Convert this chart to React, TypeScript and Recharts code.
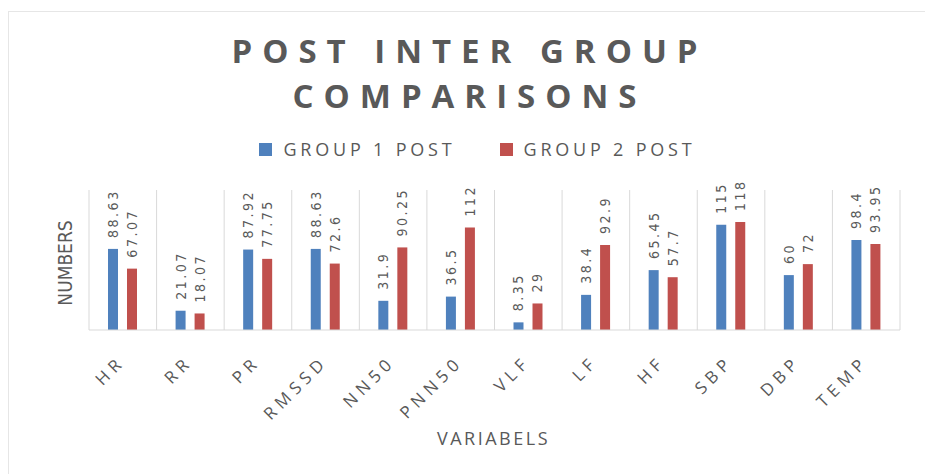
import React from 'react';
import { BarChart, Bar, XAxis, YAxis, CartesianGrid, LabelList } from 'recharts';

const variables = ['HR', 'RR', 'PR', 'RMSSD', 'NN50', 'PNN50', 'VLF', 'LF', 'HF', 'SBP', 'DBP', 'TEMP'];
const group1Post = [88.63, 21.07, 87.92, 88.63, 31.9, 36.5, 8.35, 38.4, 65.45, 115, 60, 98.4];
const group2Post = [67.07, 18.07, 77.75, 72.6, 90.25, 112, 29, 92.9, 57.7, 118, 72, 93.95];
const seriesNames = ['GROUP 1 POST', 'GROUP 2 POST'];

const data = variables.map((name, i) => ({ name, g1: group1Post[i], g2: group2Post[i] }));

const BLUE = '#4F81BD';
const RED = '#C0504D';
const TEXT = '#595959';

const renderValue = (props: any) => {
  const { x, y, width, value } = props;
  const cx = x + width / 2;
  const cy = y - 11;
  return (
    <text
      x={cx}
      y={cy}
      transform={`rotate(-90, ${cx}, ${cy})`}
      textAnchor="start"
      dominantBaseline="central"
      fill={TEXT}
      fontSize={14}
      letterSpacing={2.5}
      fontFamily="'Liberation Sans Narrow', 'DejaVu Sans Condensed', sans-serif"
    >
      {value}
    </text>
  );
};

const TICK_SPACING = 5;

const VarTick = (props: any) => {
  const { x, y, payload } = props;
  const tx = x - 5;
  const ty = y + 24;
  return (
    <text
      x={tx}
      y={ty}
      dx={TICK_SPACING}
      transform={`rotate(-45, ${tx}, ${ty})`}
      textAnchor="end"
      dominantBaseline="central"
      fill={TEXT}
      fontSize={17}
      letterSpacing={TICK_SPACING}
      fontFamily="'Open Sans', sans-serif"
    >
      {payload.value}
    </text>
  );
};

const LegendBox = () => (
  <div style={{ display: 'flex', justifyContent: 'center', gap: 44, fontFamily: "'Open Sans', sans-serif", fontSize: 18, letterSpacing: 3.8, color: TEXT }}>
    {seriesNames.map((label, i) => (
      <div key={label} style={{ display: 'flex', alignItems: 'center' }}>
        <span style={{ width: 13, height: 13, background: i === 0 ? BLUE : RED, display: 'inline-block', marginRight: 11 }} />
        <span>{label}</span>
      </div>
    ))}
  </div>
);

// separators sit between categories, not on them
const boundaryLines = ({ offset }: any) => {
  const n = variables.length;
  return Array.from({ length: n + 1 }, (_, i) => offset.left + (offset.width * i) / n);
};

export default function App() {
  return (
    <div style={{ position: 'absolute', left: 0, top: 0, width: 925, height: 474, background: '#fff', overflow: 'hidden' }}>
      <div style={{ position: 'absolute', left: 8, top: 11, right: 0, bottom: 0, borderTop: '1px solid #e6e6e6', borderLeft: '1px solid #e6e6e6' }} />
      <div
        style={{
          position: 'absolute', left: 7, width: 925, top: 28, textAlign: 'center',
          fontFamily: "'Open Sans', sans-serif", fontWeight: 700, fontSize: 33, letterSpacing: 10,
          lineHeight: '45px', color: TEXT,
        }}
      >
        POST INTER GROUP
        <br />
        COMPARISONS
      </div>
      <div style={{ position: 'absolute', left: 15, width: 925, top: 137 }}>
        <LegendBox />
      </div>
      <div
        style={{
          position: 'absolute', left: 65, top: 263, transform: 'translate(-50%, -50%) rotate(-90deg)',
          fontFamily: "'Liberation Sans Narrow', 'DejaVu Sans Condensed', sans-serif", fontSize: 19, color: TEXT, whiteSpace: 'nowrap',
        }}
      >
        NUMBERS
      </div>
      <div
        style={{
          position: 'absolute', left: 31, width: 925, top: 426, textAlign: 'center',
          fontFamily: "'Open Sans', sans-serif", fontSize: 18, letterSpacing: 2.5, color: TEXT,
        }}
      >
        VARIABELS
      </div>
      <BarChart
        width={925}
        height={474}
        data={data}
        margin={{ top: 190, right: 25, bottom: 104, left: 89 }}
        barSize={10}
        barGap={9}
        style={{ position: 'absolute', left: 0, top: 0 }}
      >
        <CartesianGrid horizontal={false} stroke="#d9d9d9" verticalCoordinatesGenerator={boundaryLines} />
        <XAxis dataKey="name" axisLine={{ stroke: '#d9d9d9' }} tickLine={false} tick={<VarTick />} interval={0} height={40} />
        <YAxis hide domain={[0, 153]} width={0} />
        <Bar dataKey="g1" name={seriesNames[0]} fill={BLUE} isAnimationActive={false}>
          <LabelList dataKey="g1" content={renderValue} />
        </Bar>
        <Bar dataKey="g2" name={seriesNames[1]} fill={RED} isAnimationActive={false}>
          <LabelList dataKey="g2" content={renderValue} />
        </Bar>
      </BarChart>
    </div>
  );
}
